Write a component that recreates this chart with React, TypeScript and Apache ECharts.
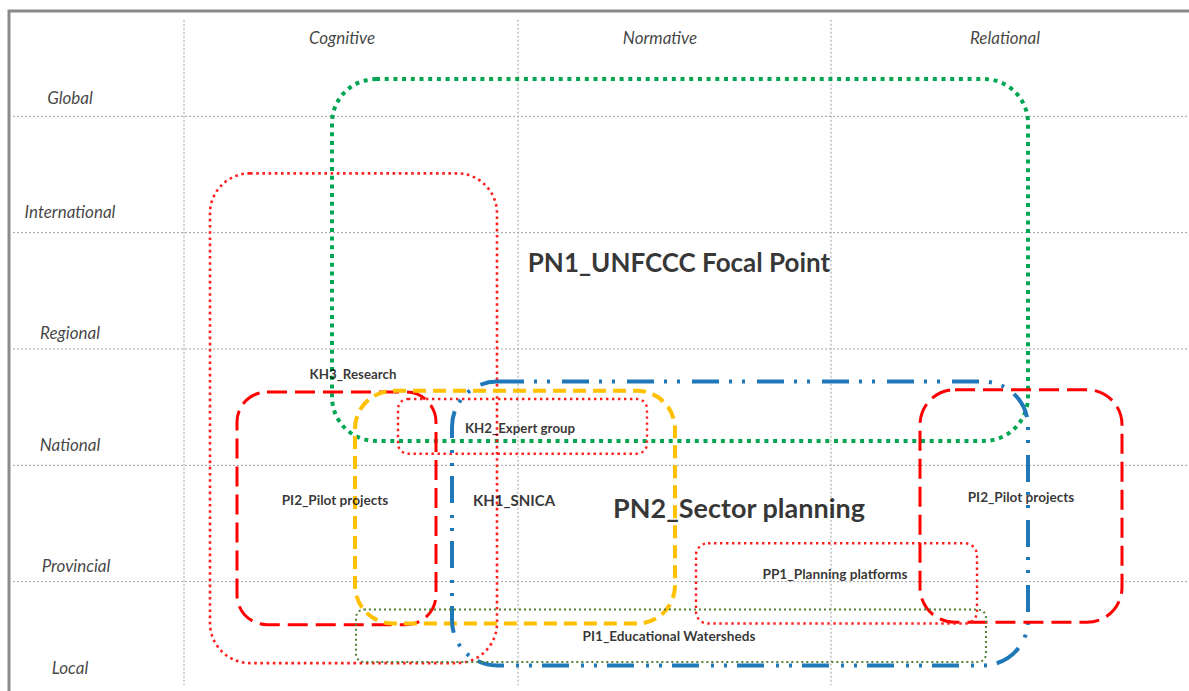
import React, { useEffect, useRef } from "react";
import * as echarts from "echarts";

// Columns (dimensions) and their header positions
const columns = ["Cognitive", "Normative", "Relational"];
const columnCenterX = [342, 660, 1005];
const columnHeaderLevel = [5.68, 5.68, 5.68];
const columnBounds = [184, 518, 831];

// Levels (rows), bottom to top
const levels = ["Local", "Provincial", "National", "Regional", "International", "Global"];
const levelLabelX = [70, 76, 70, 70, 70, 70];
const levelLabelLevel = [0.26, 1.135, 2.183, 3.138, 4.186, 5.166];
const levelBounds = [1, 2, 3, 4, 5];

// Boxes (scopes of actors)
const boxNames = [
  "PN1_UNFCCC Focal Point",
  "KH3_Research",
  "PI2_Pilot projects",
  "KH1_SNICA",
  "KH2_Expert group",
  "PN2_Sector planning",
  "PI2_Pilot projects",
  "PP1_Planning platforms",
  "PI1_Educational Watersheds",
];
const boxFromX = [332, 210, 237, 355, 398, 452, 920, 696, 356];
const boxToX = [1028, 497, 436, 675, 647, 1028, 1122, 977, 986];
const boxLowLevel = [2.21, 0.3, 0.63, 0.64, 2.1, 0.28, 0.65, 0.64, 0.31];
const boxHighLevel = [5.32, 4.51, 2.63, 2.64, 2.57, 2.72, 2.65, 1.33, 0.76];
const boxLabelX = [679, 353, 335, 514, 520, 739, 1021, 835, 669];
const boxLabelLevel = [3.75, 2.785, 1.7, 1.7, 2.32, 1.64, 1.73, 1.066, 0.533];

// Styles
const boxStyles = [
  { stroke: "#00a651", lineWidth: 4, lineDash: [4, 4.7], r: 44 },
  { stroke: "#ff1f1f", lineWidth: 2.6, lineDash: [2.6, 3.6], r: 40 },
  { stroke: "#ff0000", lineWidth: 3, lineDash: [20, 8], r: 30 },
  { stroke: "#ffc000", lineWidth: 4, lineDash: [13, 7], r: 38 },
  { stroke: "#ff1f1f", lineWidth: 2.4, lineDash: [2.4, 3.6], r: 10 },
  { stroke: "#1f78b8", lineWidth: 4, lineDash: [27, 10, 3, 10, 3, 12], r: 45 },
  { stroke: "#ff0000", lineWidth: 3, lineDash: [20, 8], r: 35 },
  { stroke: "#ff1f1f", lineWidth: 2.4, lineDash: [2.4, 3.6], r: 12 },
  { stroke: "#548235", lineWidth: 2, lineDash: [2, 3], r: 8 },
];
const boxLabelSizes = [26, 13.3, 13.6, 15, 13.3, 27, 13.6, 13.7, 13.6];

export default function App() {
  const ref = useRef<HTMLDivElement>(null);

  useEffect(() => {
    if (!ref.current) return;
    const chart = echarts.init(ref.current, undefined, { renderer: "svg" });

    const gridLineData: number[][] = [];
    columnBounds.forEach((x) => gridLineData.push([x, 5.83, x, 0.11]));
    levelBounds.forEach((l) => gridLineData.push([13, l, 1189, l]));

    const boxData = boxNames.map((_, i) => [boxFromX[i], boxToX[i], boxLowLevel[i], boxHighLevel[i]]);

    const italic = { fontSize: 17, fontStyle: "italic", fontWeight: "normal", color: "#111" };
    const textData: any[] = [];
    columns.forEach((c, i) =>
      textData.push({ name: c, value: [columnCenterX[i], columnHeaderLevel[i]], label: italic })
    );
    levels.forEach((l, i) =>
      textData.push({ name: l, value: [levelLabelX[i], levelLabelLevel[i]], label: italic })
    );
    boxNames.forEach((b, i) =>
      textData.push({
        name: b,
        value: [boxLabelX[i], boxLabelLevel[i]],
        label: { fontSize: boxLabelSizes[i], fontWeight: "bold", color: "#000" },
      })
    );

    chart.setOption({
      animation: false,
      backgroundColor: "#ffffff",
      grid: { left: 0, top: 0, right: 0, bottom: 0 },
      xAxis: { type: "value", min: 0, max: 1189, show: false },
      yAxis: { type: "value", min: 0.06, max: 6, show: false },
      graphic: [
        {
          type: "rect",
          shape: { x: 9, y: 11, width: 1200, height: 700 },
          style: { fill: "none", stroke: "#8a8a8a", lineWidth: 3 },
          silent: true,
        },
      ],
      series: [
        {
          type: "custom",
          silent: true,
          data: gridLineData,
          renderItem: (params: any, api: any) => {
            const a = api.coord([api.value(0), api.value(1)]);
            const b = api.coord([api.value(2), api.value(3)]);
            return {
              type: "line",
              shape: { x1: a[0], y1: a[1], x2: b[0], y2: b[1] },
              style: { stroke: "#a0a0a0", lineWidth: 1, lineDash: [2, 2] },
            };
          },
        },
        {
          type: "custom",
          silent: true,
          data: boxData,
          renderItem: (params: any, api: any) => {
            const s = boxStyles[params.dataIndex];
            const tl = api.coord([api.value(0), api.value(3)]);
            const br = api.coord([api.value(1), api.value(2)]);
            return {
              type: "rect",
              shape: { x: tl[0], y: tl[1], width: br[0] - tl[0], height: br[1] - tl[1], r: s.r },
              style: { fill: "none", stroke: s.stroke, lineWidth: s.lineWidth, lineDash: s.lineDash },
            };
          },
        },
        {
          type: "scatter",
          silent: true,
          symbolSize: 0,
          data: textData,
          label: {
            show: true,
            position: "inside",
            formatter: "{b}",
            fontFamily: "Lato",
          },
        },
      ],
    });

    return () => chart.dispose();
  }, []);

  return (
    <div
      ref={ref}
      style={{ position: "fixed", left: 0, top: 0, width: 1189, height: 691, background: "#fff" }}
    />
  );
}
